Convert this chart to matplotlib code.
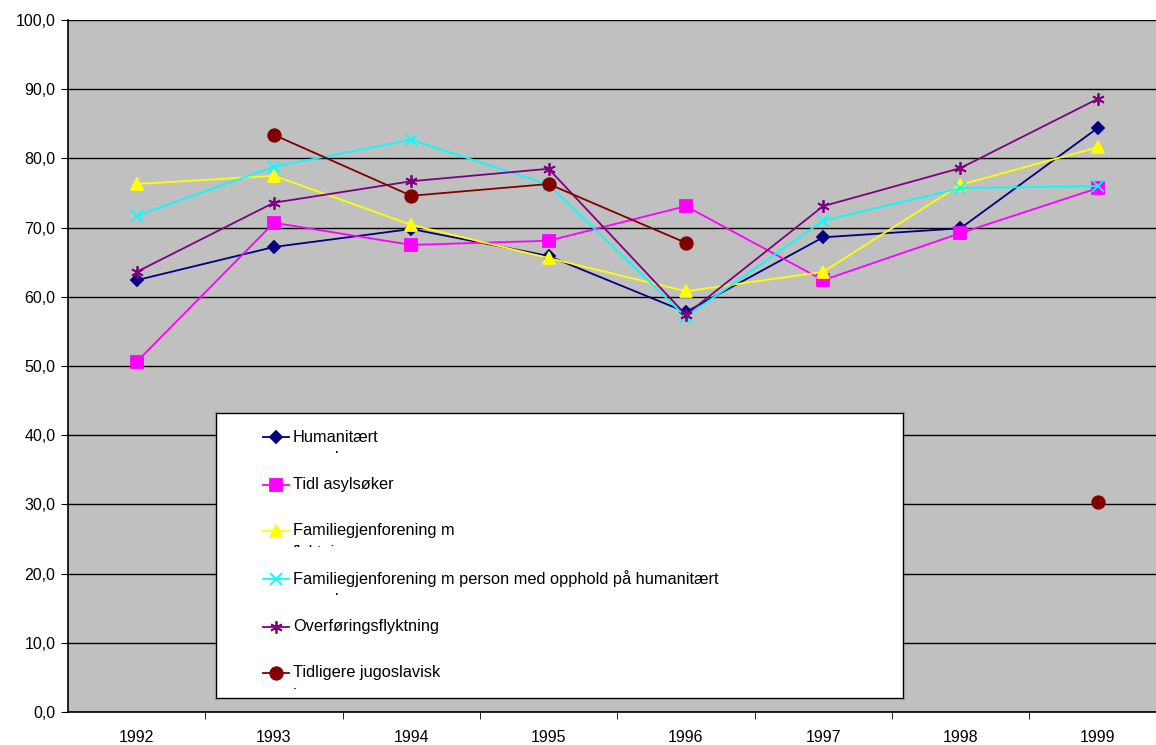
import numpy as np
import matplotlib
matplotlib.use('Agg')
from matplotlib import pyplot as plt
from matplotlib.transforms import Bbox, TransformedBbox

plt.rcParams['font.family'] = ['Liberation Sans', 'DejaVu Sans']

years = ['1992', '1993', '1994', '1995', '1996', '1997', '1998', '1999']
nan = np.nan

humanitaert = [62.4, 67.2, 69.8, 65.9, 57.8, 68.6, 69.9, 84.4]
tidl_asyl = [50.6, 70.7, 67.5, 68.1, 73.1, 62.4, 69.2, 75.7]
fam_flyktning = [76.3, 77.5, 70.4, 65.6, 60.8, 63.6, 76.2, 81.6]
fam_humanitaert = [71.7, 78.8, 82.7, 76.2, 57.1, 71.0, 75.7, 76.0]
overforing = [63.6, 73.6, 76.7, 78.5, 57.4, 73.1, 78.6, 88.6]
jugoslavisk = [nan, 83.4, 74.6, 76.3, 67.8, nan, nan, 30.3]

labels = ['Humanitært\ngrunnlag',
          'Tidl asylsøker',
          'Familiegjenforening m\nflyktning',
          'Familiegjenforening m person med opphold på humanitært\ngrunnlag',
          'Overføringsflyktning',
          'Tidligere jugoslavisk\ninternert']

series = [humanitaert, tidl_asyl, fam_flyktning, fam_humanitaert, overforing, jugoslavisk]
colors = ['#000080', '#FF00FF', '#FFFF00', '#00FFFF', '#800080', '#800000']
markers = ['D', 's', '^', 'x', (6, 2, 0), 'o']
msizes = [6, 9, 8, 8, 9, 9]

fig = plt.figure(figsize=(11.56, 7.45), dpi=100)
W, H = 1156, 745
ax = fig.add_axes([68 / W, 33 / H, 1098.4 / W, 692 / H])
ax.set_facecolor('#C0C0C0')

x = np.arange(len(years))
for s, c, m, ms in zip(series, colors, markers, msizes):
    ax.plot(x, s, color=c, marker=m, markersize=ms, linewidth=1.3,
            markeredgewidth=1.3, clip_on=False, zorder=3)

ax.set_xlim(-0.5, 7.5)
ax.set_ylim(0, 100)
ax.set_yticks(np.arange(0, 101, 10))
ax.set_yticklabels([f'{v:.1f}'.replace('.', ',') for v in np.arange(0, 101, 10)],
                   fontsize=11.5)
ax.yaxis.grid(True, color='black', linewidth=1)
ax.set_axisbelow(True)

ax.set_xticks(x)
ax.set_xticklabels(years, fontsize=11.5)
ax.set_xticks(np.arange(0.5, 7.5, 1), minor=True)
ax.tick_params(axis='x', which='major', length=0, pad=13)
ax.tick_params(axis='x', which='minor', length=5, direction='out')
ax.tick_params(axis='y', length=5, direction='out', pad=4)

for side in ['top', 'right']:
    ax.spines[side].set_visible(False)
ax.spines['left'].set_linewidth(1.2)
ax.spines['bottom'].set_linewidth(1.2)

# legend box drawn by hand, second lines cut off like in the original
lg = fig.add_axes([216 / W, 47 / H, 687 / W, 285 / H])
lg.set_xlim(0, 687)
lg.set_ylim(285, 0)
lg.set_xticks([])
lg.set_yticks([])
for sp in lg.spines.values():
    sp.set_linewidth(1)
    sp.set_color('black')

rows = [24, 72, 118, 166, 214, 260]
for yy, lab, c, m, ms in zip(rows, labels, colors, markers, msizes):
    lg.plot([47, 73], [yy, yy], color=c, linewidth=1.3)
    lg.plot([60], [yy], color=c, marker=m, markersize=ms, markeredgewidth=1.3)
    parts = lab.split('\n')
    lg.text(77, yy, parts[0], fontsize=11.8, va='center', ha='left')
    if len(parts) > 1:
        t = lg.text(77, yy + 22, parts[1], fontsize=11.8, va='center', ha='left')
        box = TransformedBbox(Bbox.from_extents(0, 0, 687, yy + 16), lg.transData)
        t.set_clip_box(box)
        t.set_clip_on(True)

fig.savefig('out.png', dpi=100)
